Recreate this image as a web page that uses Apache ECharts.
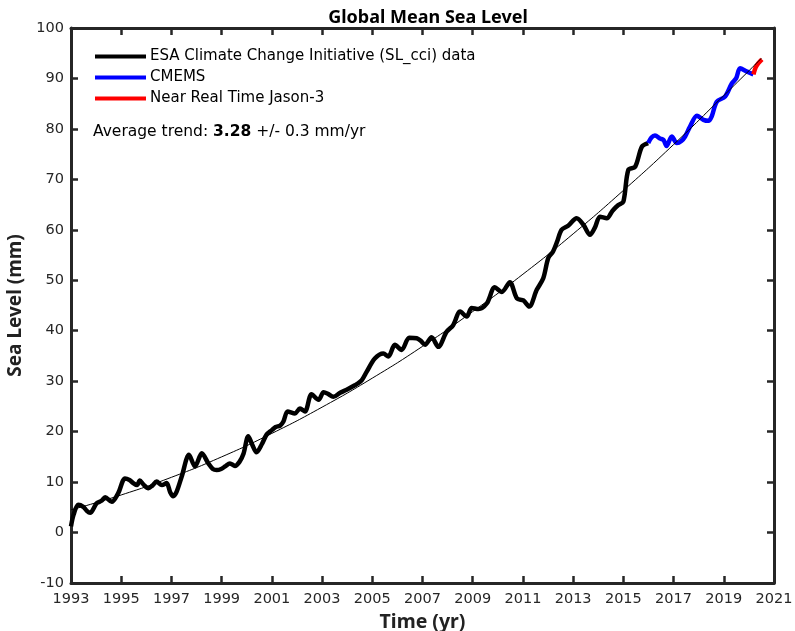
<!DOCTYPE html>
<html>
<head>
<meta charset="utf-8">
<script src="https://cdn.jsdelivr.net/npm/echarts@6/dist/echarts.min.js"></script>
<style>
html,body{margin:0;padding:0;background:#fff;}
#chart{width:795px;height:631px;}
</style>
</head>
<body>
<div id="chart"></div>
<script>
// SL_cci series (black)
var cciTime = [1993.00,1993.10,1993.29,1993.49,1993.63,1993.76,1994.02,1994.22,1994.36,1994.62,1994.88,
  1995.15,1995.33,1995.48,1995.63,1995.74,1995.89,1996.08,1996.24,1996.41,1996.62,1996.81,1996.95,
  1997.07,1997.20,1997.41,1997.70,1997.94,1998.21,1998.47,1998.65,1998.80,1998.98,1999.14,1999.33,
  1999.53,1999.71,1999.87,2000.06,2000.21,2000.39,2000.60,2000.79,2001.00,2001.15,2001.33,2001.46,
  2001.63,2001.92,2002.12,2002.32,2002.58,2002.86,2003.06,2003.23,2003.45,2003.72,2003.98,2004.31,
  2004.58,2004.78,2005.10,2005.44,2005.64,2005.90,2006.17,2006.47,2006.77,2006.93,2007.10,2007.36,
  2007.63,2007.96,2008.22,2008.50,2008.76,2008.96,2009.23,2009.56,2009.88,2010.16,2010.48,2010.76,
  2011.02,2011.25,2011.55,2011.81,2012.01,2012.20,2012.35,2012.54,2012.80,2013.14,2013.41,2013.67,
  2013.87,2014.07,2014.34,2014.57,2014.80,2015.00,2015.20,2015.47,2015.74,2015.99];
var cciLevel = [1.2,3.5,5.5,5.1,4.3,3.9,5.8,6.3,7.0,6.1,7.8,
  10.7,10.4,9.8,9.4,10.3,9.5,8.8,9.3,10.1,9.4,9.8,8.0,
  7.2,8.0,11.1,15.4,13.1,15.7,13.7,12.6,12.4,12.6,13.1,13.7,
  13.2,14.0,15.6,19.1,17.5,15.9,17.5,19.4,20.3,20.9,21.2,22.0,
  24.0,23.6,24.6,24.0,27.4,26.3,27.8,27.5,26.9,27.7,28.3,29.2,
  30.2,31.9,34.5,35.5,34.9,37.2,36.2,38.6,38.5,38.0,37.2,38.7,
  36.8,39.8,41.1,43.8,42.8,44.5,44.3,45.4,48.6,47.7,49.6,46.4,
  46.0,44.8,48.1,50.4,54.4,55.7,57.5,60.0,60.8,62.3,61.0,59.0,
  60.5,62.6,62.3,63.8,64.9,65.6,71.9,72.5,76.5,77.2];

// CMEMS series (blue)
var cmemsTime = [2015.99,2016.12,2016.26,2016.46,2016.60,2016.72,2016.93,2017.13,2017.31,2017.46,2017.65,
  2017.93,2018.19,2018.39,2018.52,2018.72,2019.05,2019.32,2019.49,2019.65,2019.91,2020.18];
var cmemsLevel = [77.2,78.3,78.7,78.1,77.8,76.6,78.5,77.2,77.6,78.5,80.4,
  82.6,81.8,81.6,82.5,85.4,86.4,89.0,90.0,92.0,91.4,90.8];

// Near Real Time Jason-3 (red)
var nrtTime = [2020.18,2020.27,2020.37,2020.52];
var nrtLevel = [90.8,92.2,93.0,93.8];

// trend curve
var trendTime = [1993,1995,1997,1999,2001,2003,2005,2007,2009,2011,2013,2015,2017,2019,2020.5];
var trendLevel = [4.5,7.45,10.95,15.0,19.65,24.85,30.6,36.9,43.8,51.2,59.2,67.8,76.9,86.6,94.0];

var seriesNames = ['ESA Climate Change Initiative (SL_cci) data','CMEMS','Near Real Time Jason-3'];

function zip(a,b){
  var out=[];
  for(var i=0;i<a.length;i++){ out.push([a[i],b[i]]); }
  return out;
}

var axisColor = '#262626';
var textFont = '"DejaVu Sans", sans-serif';
var boldFont = '"Noto Sans", "DejaVu Sans", sans-serif';

var chart = echarts.init(document.getElementById('chart'), null, {renderer:'canvas'});
var option = {
  animation:false,
  backgroundColor:'#fff',
  title:{
    text:'Global Mean Sea Level',
    left:423, top:4, textAlign:'center',
    textStyle:{fontFamily:boldFont, fontSize:18, fontWeight:'bold', color:'#000'}
  },
  grid:{left:71, right:21, top:28, bottom:48, containLabel:false, outerBoundsMode:'none'},
  legend:{
    data:seriesNames,
    orient:'vertical',
    left:95, top:49,
    padding:0,
    icon:'rect',
    itemWidth:51, itemHeight:4,
    itemGap:6,
    textStyle:{fontFamily:textFont, fontSize:15, color:'#000', padding:[0,0,0,-1]}
  },
  graphic:[{
    type:'text',
    left:93, top:124,
    style:{
      text:'Average trend: {b|3.28} +/- 0.3 mm/yr',
      fontFamily:textFont, fontSize:15.5, fill:'#000',
      rich:{b:{fontFamily:textFont, fontSize:15.5, fontWeight:'bold', fill:'#000'}}
    }
  }],
  xAxis:[{
    type:'value', min:1993, max:2021, interval:2,
    name:'Time (yr)', nameLocation:'middle', nameGap:29,
    nameTextStyle:{fontFamily:boldFont, fontSize:19.5, fontWeight:'bold', color:'#222'},
    axisLine:{show:true, onZero:false, lineStyle:{color:axisColor, width:3}},
    axisTick:{show:true, inside:true, length:7, lineStyle:{color:axisColor, width:2.5}},
    axisLabel:{fontFamily:textFont, fontSize:14.5, color:'#262626', margin:9,
      formatter:function(v){return String(v);}},
    splitLine:{show:false}
  },{
    type:'value', min:1993, max:2021, interval:2, position:'top',
    axisLine:{show:true, onZero:false, lineStyle:{color:axisColor, width:3}},
    axisTick:{show:true, inside:true, length:7, lineStyle:{color:axisColor, width:2.5}},
    axisLabel:{show:false}, splitLine:{show:false}
  }],
  yAxis:[{
    type:'value', min:-10, max:100, interval:10,
    name:'Sea Level (mm)', nameLocation:'middle', nameGap:42,
    nameTextStyle:{fontFamily:boldFont, fontSize:19, fontWeight:'bold', color:'#222'},
    axisLine:{show:true, onZero:false, lineStyle:{color:axisColor, width:3}},
    axisTick:{show:true, inside:true, length:7, lineStyle:{color:axisColor, width:2.5}},
    axisLabel:{fontFamily:textFont, fontSize:14.5, color:'#262626', margin:7},
    splitLine:{show:false}
  },{
    type:'value', min:-10, max:100, interval:10, position:'right',
    axisLine:{show:true, onZero:false, lineStyle:{color:axisColor, width:3}},
    axisTick:{show:true, inside:true, length:7, lineStyle:{color:axisColor, width:2.5}},
    axisLabel:{show:false}, splitLine:{show:false}
  }],
  series:[{
    name:seriesNames[0], type:'line', data:zip(cciTime,cciLevel),
    smooth:0.3, showSymbol:false, color:'#000',
    lineStyle:{color:'#000', width:4.5}, z:3
  },{
    name:seriesNames[1], type:'line', data:zip(cmemsTime,cmemsLevel),
    smooth:0.3, showSymbol:false, color:'#0000ff',
    lineStyle:{color:'#0000ff', width:4.5}, z:4
  },{
    name:seriesNames[2], type:'line', data:zip(nrtTime,nrtLevel),
    smooth:0.3, showSymbol:false, color:'#ff0000',
    lineStyle:{color:'#ff0000', width:4.5}, z:5
  },{
    name:'trend', type:'line', data:zip(trendTime,trendLevel),
    smooth:true, showSymbol:false, color:'#000',
    lineStyle:{color:'#000', width:1}, z:6
  }]
};
chart.setOption(option);
</script>
</body>
</html>
